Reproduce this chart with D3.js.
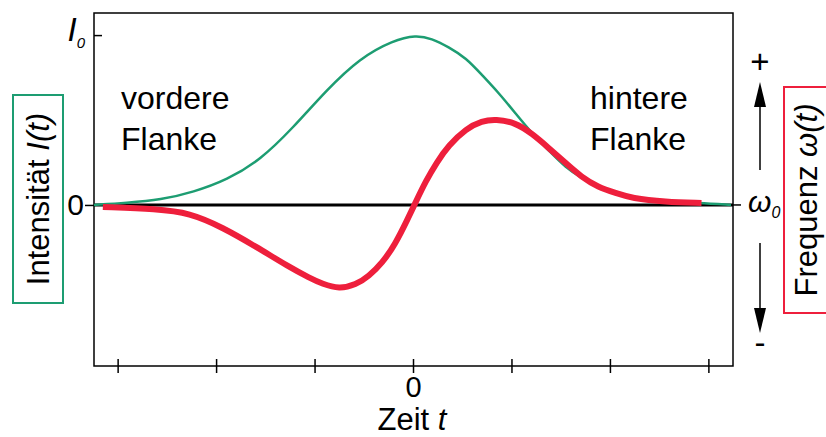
<!DOCTYPE html>
<html>
<head>
<meta charset="utf-8">
<script src="https://cdn.jsdelivr.net/npm/d3@7"></script>
<style>
  body { margin: 0; background: #fff; }
  svg { display: block; font-family: "Liberation Sans", Arial, sans-serif; }
</style>
</head>
<body>
<svg id="chart" width="826" height="437"></svg>
<script>

/*** DATA ***/

// x ticks (time units), only 0 gets a label
let timeTicks = [-3, -2, -1, 0, 1, 2, 3];

// intensity I(t) (t, value in units of I0)
let intensityT   = [-3.24, -2.91, -2.56, -2.23, -1.89, -1.55, -1.22, -0.88, -0.54, -0.20, 0.03,
                    0.19, 0.36, 0.54, 0.70, 0.87, 1.04, 1.21, 1.38, 1.55, 1.71, 1.88, 2.06, 2.22, 2.56, 2.90, 3.23];
let intensityVal = [0, 0.012, 0.03, 0.076, 0.147, 0.265, 0.453, 0.676, 0.865, 0.97, 1.0,
                    0.98, 0.93, 0.865, 0.765, 0.66, 0.54, 0.42, 0.32, 0.22, 0.16, 0.105, 0.07, 0.04, 0.018, 0.012, 0];

// frequency shift w(t) - w0
let freqT   = [-3.15, -2.60, -2.27, -1.94, -1.59, -1.26, -1.05, -0.92, -0.75, -0.58, -0.45, -0.31, -0.18, -0.06, 0.03,
               0.13, 0.24, 0.36, 0.54, 0.70, 0.84, 1.04, 1.21, 1.38, 1.55, 1.71, 1.88, 2.06, 2.22, 2.56, 2.93];
let freqVal = [-0.012, -0.024, -0.047, -0.13, -0.247, -0.365, -0.43, -0.465, -0.495, -0.47, -0.42, -0.34, -0.23, -0.09, 0.02,
               0.14, 0.25, 0.35, 0.45, 0.495, 0.505, 0.485, 0.42, 0.335, 0.247, 0.165, 0.105, 0.07, 0.04, 0.018, 0.012];

/*** SETUP ***/

let margin = {top: 13, right: 93, bottom: 71, left: 94},
    width  = 826 - margin.left - margin.right,
    height = 437 - margin.top - margin.bottom;

let green = "#1d9d72",
    red   = "#ee1f3c";

let svg = d3.select("#chart");
let g = svg.append("g").attr("transform", `translate(${margin.left},${margin.top})`);

let x = d3.scaleLinear().domain([-3.24, 3.25]).range([0, width]),
    y = d3.scaleLinear().domain([-0.948, 1.13]).range([height, 0]);

// frame
g.append("rect")
    .attr("width", width).attr("height", height)
    .attr("fill", "none").attr("stroke", "#000").attr("stroke-width", 1.5);

// bottom axis
let xAxis = g.append("g")
    .attr("transform", `translate(0,${height})`)
    .call(d3.axisBottom(x).tickValues(timeTicks).tickSize(7).tickPadding(3)
        .tickFormat(d => d === 0 ? "0" : ""));
xAxis.select(".domain").remove();
xAxis.selectAll(".tick line").attr("y1", -7).attr("stroke-width", 1.5);
xAxis.selectAll(".tick text").attr("font-size", 29).attr("font-family", "Liberation Sans, Arial, sans-serif");

// left axis ticks
let yAxis = g.append("g")
    .call(d3.axisLeft(y).tickValues([0, 1]).tickSize(9).tickFormat(""));
yAxis.select(".domain").remove();
yAxis.selectAll(".tick line").attr("stroke-width", 1.5)
    .attr("x2", d => d === 1 ? 8 : -9);

g.append("text")
    .attr("x", -10).attr("y", y(0)).attr("dy", "0.35em")
    .attr("text-anchor", "end").attr("font-size", 30)
    .text("0");

let i0 = g.append("text")
    .attr("x", -9).attr("y", y(1) + 6)
    .attr("text-anchor", "end").attr("font-size", 33).attr("font-style", "italic");
i0.append("tspan").text("I");
i0.append("tspan").attr("font-size", 15).attr("dy", 7).text("0");

// right axis tick (omega_0)
g.append("line")
    .attr("x1", width).attr("x2", width + 8)
    .attr("y1", y(0)).attr("y2", y(0))
    .attr("stroke", "#000").attr("stroke-width", 1.5);

let w0 = g.append("text")
    .attr("x", width + 15).attr("y", y(0) + 7)
    .attr("font-size", 30).attr("font-style", "italic");
w0.append("tspan").text("ω");
w0.append("tspan").attr("font-size", 16).attr("dy", 6).text("0");

// zero line
g.append("line")
    .attr("x1", 0).attr("x2", width)
    .attr("y1", y(0)).attr("y2", y(0))
    .attr("stroke", "#000").attr("stroke-width", 3);

/*** CURVES ***/

let line = d3.line()
    .x(d => x(d[0]))
    .y(d => y(d[1]))
    .curve(d3.curveBasis);

g.append("path")
    .datum(intensityT.map((t, i) => [t, intensityVal[i]]))
    .attr("d", line)
    .attr("fill", "none").attr("stroke", green).attr("stroke-width", 2.5);

g.append("path")
    .datum(freqT.map((t, i) => [t, freqVal[i]]))
    .attr("d", line)
    .attr("fill", "none").attr("stroke", red).attr("stroke-width", 6)
    .attr("stroke-linecap", "butt");

/*** TEXT LABELS ***/

function twoLines(px, py, a, b) {
    let t = svg.append("text").attr("font-size", 32);
    t.append("tspan").attr("x", px).attr("y", py).text(a);
    t.append("tspan").attr("x", px).attr("y", py + 41).text(b);
}
twoLines(121, 109, "vordere", "Flanke");
twoLines(590, 109, "hintere", "Flanke");

// x axis title
let xt = svg.append("text")
    .attr("x", 412).attr("y", 430)
    .attr("text-anchor", "middle").attr("font-size", 31);
xt.append("tspan").text("Zeit ");
xt.append("tspan").attr("font-style", "italic").text("t");

// left boxed label
svg.append("rect")
    .attr("x", 13).attr("y", 95).attr("width", 50).attr("height", 208)
    .attr("fill", "none").attr("stroke", green).attr("stroke-width", 2);
let lt = svg.append("text")
    .attr("transform", "translate(49,199) rotate(-90)")
    .attr("text-anchor", "middle").attr("font-size", 31);
lt.append("tspan").text("Intensität ");
lt.append("tspan").attr("font-style", "italic").text("I(t)");

// right boxed label
svg.append("rect")
    .attr("x", 784).attr("y", 87).attr("width", 60).attr("height", 226)
    .attr("fill", "none").attr("stroke", red).attr("stroke-width", 2);
let rt = svg.append("text")
    .attr("transform", "translate(817,200) rotate(-90)")
    .attr("text-anchor", "middle").attr("font-size", 31);
rt.append("tspan").text("Frequenz ");
rt.append("tspan").attr("font-style", "italic").text("ω(t)");

// arrows + / -
let ax = 760;
svg.append("line").attr("x1", ax).attr("x2", ax).attr("y1", 170).attr("y2", 104)
    .attr("stroke", "#000").attr("stroke-width", 1.5);
svg.append("path").attr("d", `M${ax},82 L${ax - 6},107 L${ax + 6},107 Z`).attr("fill", "#000");
svg.append("line").attr("x1", ax).attr("x2", ax).attr("y1", 243).attr("y2", 310)
    .attr("stroke", "#000").attr("stroke-width", 1.5);
svg.append("path").attr("d", `M${ax},333 L${ax - 6},308 L${ax + 6},308 Z`).attr("fill", "#000");

svg.append("text").attr("x", ax).attr("y", 73).attr("text-anchor", "middle")
    .attr("font-size", 33).text("+");
svg.append("text").attr("x", ax).attr("y", 354).attr("text-anchor", "middle")
    .attr("font-size", 33).text("-");

</script>
</body>
</html>
